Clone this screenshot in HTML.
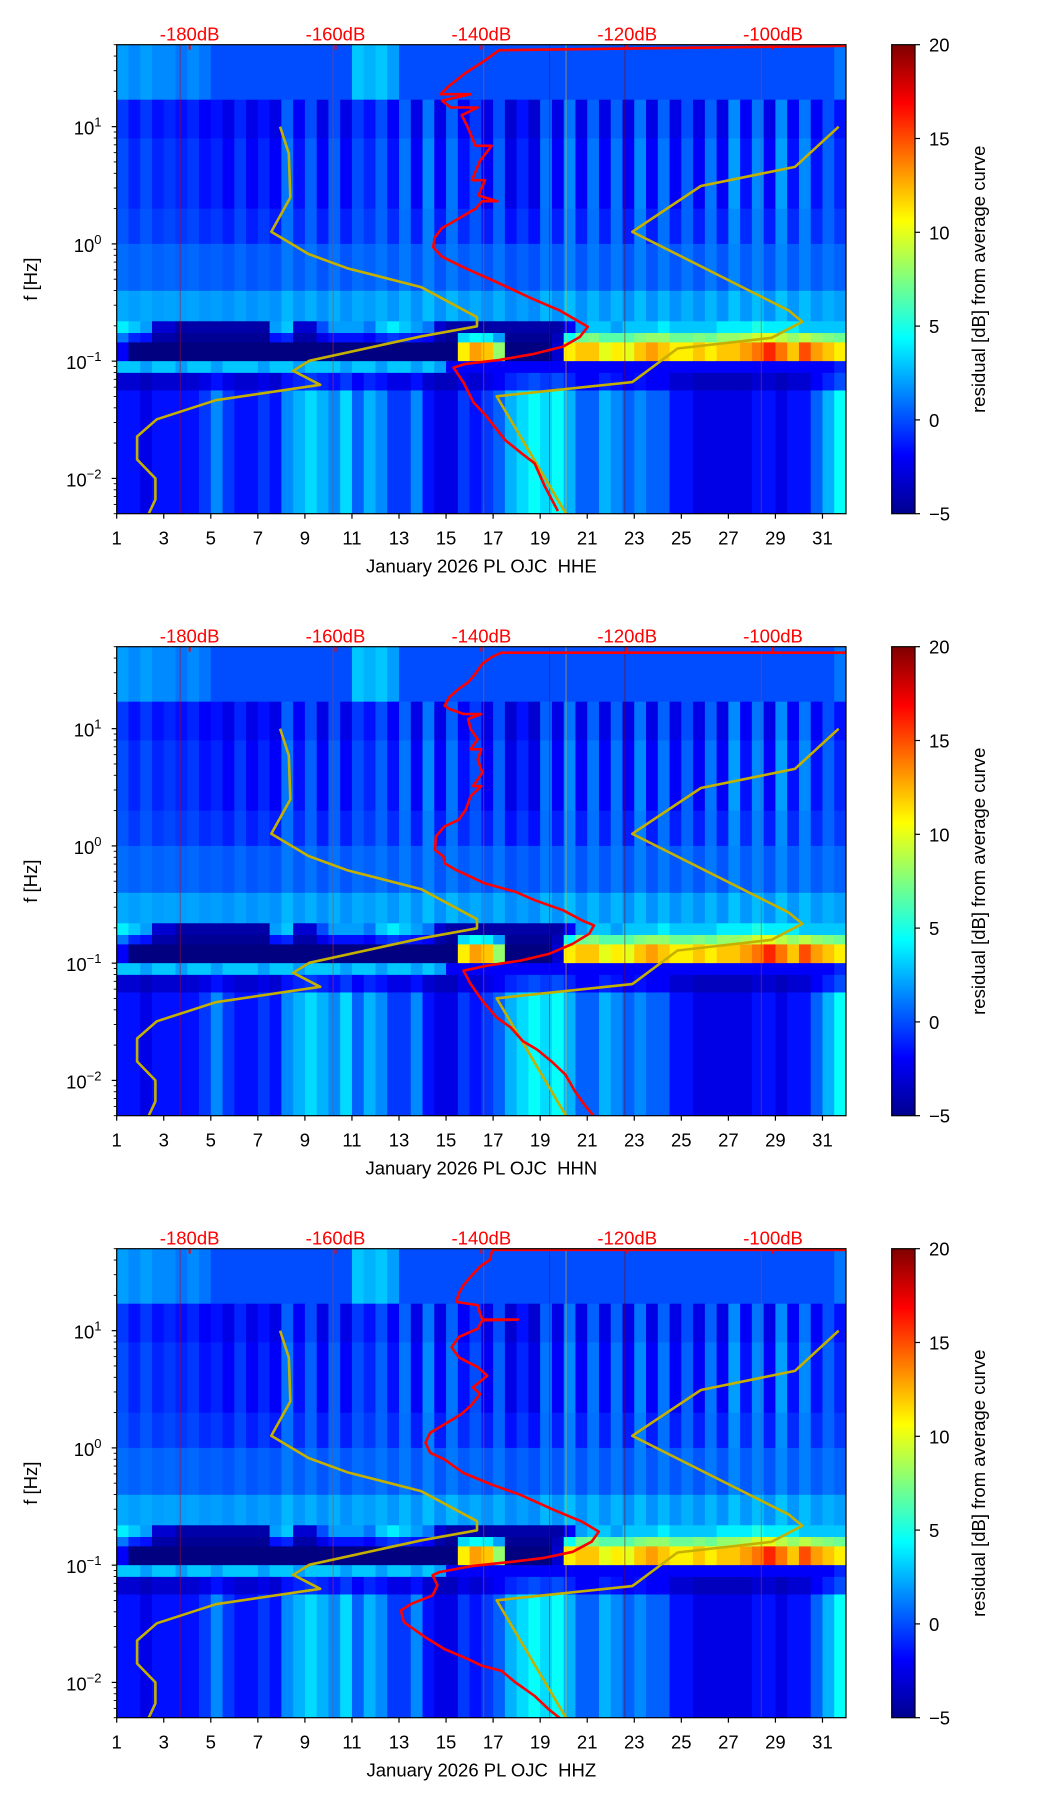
<!DOCTYPE html>
<html><head><meta charset="utf-8"><title>PL OJC residual spectrograms</title>
<style>
html,body{margin:0;padding:0;background:#fff;}
svg{display:block;}
text{font-family:"Liberation Sans","DejaVu Sans",sans-serif;}
</style></head>
<body>
<svg id="fig" xmlns="http://www.w3.org/2000/svg" width="1052" height="1806" viewBox="0 0 1052 1806">
<defs>
<linearGradient id="jetGrad" x1="0" y1="1" x2="0" y2="0">
<stop offset="0" stop-color="#00008f"/><stop offset="0.125" stop-color="#0000ff"/>
<stop offset="0.375" stop-color="#00ffff"/><stop offset="0.5" stop-color="#7fff7f"/>
<stop offset="0.625" stop-color="#ffff00"/><stop offset="0.875" stop-color="#ff0000"/>
<stop offset="1" stop-color="#7f0000"/>
</linearGradient>
</defs>
</svg>
<script>
// ---- data ----
const dayTicks=[1,3,5,7,9,11,13,15,17,19,21,23,25,27,29,31];
const dbTicks=[-180,-160,-140,-120,-100];
const freqDecades=[-2,-1,0,1];
const cbTicks=[-5,0,5,10,15,20];
const channels=["HHE","HHN","HHZ"];
// NLNM (dB, log10 f)
const nlnmDB=[-167.6,-166.4,-166.2,-168.8,-163.7,-158.4,-148.2,-140.6,-140.6,-148.2,-163.6,-165.8,-162.1,-176.4,-184.5,-187.2,-187.2,-184.7,-184.7,-185.6];
const nlnmLogF=[1.0,0.772,0.396,0.103,-0.086,-0.207,-0.370,-0.625,-0.703,-0.788,-0.997,-1.082,-1.202,-1.333,-1.496,-1.643,-1.839,-2.0,-2.18,-2.30];
// NHNM
const nhnmDB=[-91.0,-97.0,-109.9,-119.3,-97.9,-96.0,-100.2,-113.1,-119.3,-137.9,-128.4];
const nhnmLogF=[1.0,0.657,0.494,0.103,-0.566,-0.664,-0.801,-0.892,-1.179,-1.300,-2.30];
// median PSD curves
const red1DB=[-90,-137.6,-139.6,-142.2,-144.5,-145.6,-141.5,-145.4,-144.2,-140.5,-142.7,-141.9,-140.8,-138.6,-140.2,-141.3,-139.5,-140.4,-137.8,-139.9,-140.8,-143.1,-145.4,-146.4,-146.6,-145.4,-142.2,-138.1,-133.0,-129.3,-125.4,-126.5,-128.8,-133.0,-137.6,-142.2,-143.8,-142.4,-141.1,-139.4,-136.7,-134.4,-132.7,-131.3,-129.5];
const red1LogF=[1.690,1.652,1.561,1.457,1.343,1.277,1.277,1.222,1.163,1.163,1.098,1.0,0.837,0.837,0.706,0.543,0.543,0.413,0.364,0.364,0.299,0.217,0.135,0.054,-0.028,-0.109,-0.207,-0.321,-0.468,-0.566,-0.706,-0.794,-0.876,-0.941,-0.990,-1.023,-1.055,-1.186,-1.349,-1.463,-1.675,-1.790,-1.871,-2.067,-2.279];
const red2DB=[-90,-137.25,-138.55,-139.85,-140.83,-141.80,-143.10,-144.40,-145.05,-144.40,-142.45,-140.0,-141.80,-141.47,-140.50,-141.47,-140.0,-140.50,-139.85,-141.15,-140.0,-141.47,-142.13,-143.10,-145.05,-146.23,-146.36,-145.19,-145.05,-143.43,-139.52,-135.29,-132.69,-128.78,-126.18,-124.55,-125.20,-127.48,-130.74,-134.64,-139.20,-142.45,-141.47,-139.85,-137.90,-135.95,-134.32,-132.37,-130.41,-128.46,-127.16,-125.86,-124.55];
const red2LogF=[1.648,1.648,1.611,1.554,1.468,1.396,1.339,1.268,1.196,1.168,1.125,1.125,1.082,0.996,0.910,0.824,0.824,0.738,0.624,0.510,0.510,0.424,0.309,0.223,0.166,0.080,-0.034,-0.091,-0.148,-0.206,-0.320,-0.392,-0.463,-0.549,-0.635,-0.678,-0.749,-0.835,-0.921,-0.978,-1.021,-1.064,-1.178,-1.321,-1.464,-1.550,-1.665,-1.736,-1.836,-1.951,-2.094,-2.208,-2.308];
const red3DB=[-90,-138.5,-138.87,-140.17,-141.47,-142.45,-143.10,-143.43,-140.50,-140.17,-139.85,-134.97,-139.85,-140.50,-143.10,-144.08,-143.10,-140.50,-139.20,-141.15,-140.17,-141.47,-142.78,-145.05,-147.01,-147.66,-147.01,-145.05,-142.45,-138.55,-134.64,-130.09,-126.18,-123.90,-124.88,-127.48,-131.39,-135.95,-141.15,-145.70,-146.68,-146.03,-146.68,-149.61,-151.04,-150.59,-147.66,-145.05,-141.80,-139.85,-137.24,-135.29,-132.69,-130.74,-129.11];
const red3LogF=[1.690,1.690,1.603,1.546,1.460,1.388,1.317,1.245,1.217,1.145,1.094,1.094,1.088,1.017,0.945,0.859,0.773,0.688,0.616,0.516,0.459,0.358,0.287,0.201,0.130,0.044,-0.042,-0.099,-0.214,-0.314,-0.400,-0.528,-0.629,-0.714,-0.800,-0.886,-0.938,-0.972,-1.006,-1.058,-1.086,-1.172,-1.258,-1.330,-1.387,-1.487,-1.616,-1.716,-1.802,-1.859,-1.902,-2.002,-2.116,-2.231,-2.311];
// spectrogram activity per half-day (residual dB)
const topAct=[2,1.5,2,1.5,1.5,1,1.5,1,0,0,0,0,0,0,0,0,0,0,0,0,3,2.5,3,2,0,0,0,0,0,0,0,0,0,0,0,0,0,0,0,0,0,0,0,0,0,0,0,0,0,0,0,0,0,0,0,0,0,0,0,0,0,1];
const hfAct=[1,0,1,0,0.5,0,0.5,-0.5,0,-1,0.5,-1,0,-1,2,-0.5,1.5,-1,1.5,-1,1,0,1.5,-0.5,2,-1,2.5,-1,2,-0.5,1,-1,1.5,-1.5,0,-1.5,2,-1,2.5,-1,2,-1,2,-1,2.5,-1,2,-1,1.5,-1,2,-1,3,-0.5,2.5,-1,3,-0.5,2.5,-0.5,1.5,0];
const bandAct=[4,3,2,-3,-3,-4,-4,-4,-4,-4,-4,-4,-4,2,3,-3,-3,0,2,2,2,1,3,4,3,2,1,-3,-4,-4,-4,-4,-4,-4,-4,-4,-4,-4,-2,2,3,3,2,3,3,3,4,3,3,3,3,4,4,4,5,4,4,4,3,3,3,3];
const msAct=[-2,-5,-5,-5,-5,-5,-5,-5,-5,-5,-5,-5,-5,-5,-5,-5,-5,-5,-5,-5,-5,-5,-5,-5,-5,-5,-5,-5,-5,11,13,12,8,-5,-5,-5,-5,-3,11,12,12,10,11,10,12,13,12,11,11,12,11,12,12,13,14,16,14,12,15,13,12,11];
const subAct=[3,3,2,3,3,2,3,3,2,3,3,3,2,3,3,2,3,3,3,2,3,3,2,3,3,2,3,2,-2,-2,-2,-2,-2,-2,-2,-2,-2,-2,-2,-2,-2,-2,-2,-2,-2,-2,-2,-2,-2,-2,-2,-2,-2,-2,-2,-2,-2,-2,-2,-2,-2,-1];
const lfAct=[0,0,-1,0,0,0,0,1,3,1,0,0,1,0,3,4,5,4,3,5,2,4,3,1,1,3,0,-1,-1,1,0,1,2,4,5,6,5,6,4,2,2,4,3,2,3,2,2,0,0,-1,-1,-1,-1,-1,0,0,-1,0,0,2,4,6];
const spikeDays=[3.7,10.2,16.6,19.4,20.1,22.6,28.4];
const spikeVals=[18,16,15,20,12,20,16];

// ---- layout ----
const NS="http://www.w3.org/2000/svg";
const svg=document.getElementById('fig');
const AX_L=116.7, AX_R=846, AX_H=469;
const panelTops=[44.7,646.7,1248.7];
const redDBs=[red1DB,red2DB,red3DB], redLFs=[red1LogF,red2LogF,red3LogF];
function mk(tag,attrs,parent){const e=document.createElementNS(NS,tag);for(const k in attrs)e.setAttribute(k,attrs[k]);(parent||svg).appendChild(e);return e;}
function xDay(d){return AX_L+(d-1)/31*(AX_R-AX_L);}
function xDB(db){return AX_L+(db+190)/100*(AX_R-AX_L);}
function yF(top,lf){return top+(Math.log10(50)-lf)/4*AX_H;}
function clamp(v){return Math.max(0,Math.min(1,v));}
function jet(v){const t=clamp((v+5)/25);
 const r=clamp(Math.min(4*t-1.5,-4*t+4.5)),g=clamp(Math.min(4*t-0.5,-4*t+3.5)),b=clamp(Math.min(4*t+0.5,-4*t+2.5));
 return `rgb(${Math.round(r*255)},${Math.round(g*255)},${Math.round(b*255)})`;}
const rowEdges=[1.7,1.23,0.9,0.3,0.0,-0.4,-0.66,-0.76,-0.84,-1.0,-1.1,-1.25,-2.31];
function cellVal(r,i){
 switch(r){
  case 0:return 0+topAct[i];
  case 1:return -1.5+hfAct[i];
  case 2:return -1+hfAct[i];
  case 3:return -0.5+hfAct[i]*0.7;
  case 4:return 0.5+hfAct[i]*0.3;
  case 5:return 2+hfAct[i]*0.3;
  case 6:return bandAct[i];
  case 7:return (bandAct[i]+msAct[i])/2;
  case 8:return msAct[i];
  case 9:return subAct[i];
  case 10:return -3+lfAct[i]*0.5;
  default:return -1.5+lfAct[i];
 }}

panelTops.forEach((top,p)=>{
 const g=mk('g',{});
 
 
 const clipId='clip'+p;
 const cp=mk('clipPath',{id:clipId},g);
 mk('rect',{x:AX_L,y:top,width:AX_R-AX_L,height:AX_H},cp);
 const cells=mk('g',{'clip-path':`url(#${clipId})`},g);
 
 
 for(let r=0;r<rowEdges.length-1;r++){
  const y0=yF(top,rowEdges[r]), y1=yF(top,rowEdges[r+1]);
  for(let i=0;i<hfAct.length;i++){
   const x0=xDay(1+i*0.5), x1=xDay(1.5+i*0.5);
   const c=mk('rect',{x:x0,y:y0,width:x1-x0+0.6,height:y1-y0+0.6,fill:jet(cellVal(r,i))},cells);
   
   
  }}
 spikeDays.forEach((d,k)=>{
  const l=mk('line',{x1:xDay(d),x2:xDay(d),y1:top,y2:top+AX_H,stroke:jet(spikeVals[k]),'stroke-width':1,opacity:0.5},cells);
  
  
 });
 // curves
 const curves=mk('g',{'clip-path':`url(#${clipId})`},g);
 function poly(dbs,lfs,color,w,name){
  const pts=dbs.map((v,k)=>xDB(v).toFixed(1)+','+yF(top,lfs[k]).toFixed(1)).join(' ');
  const pl=mk('polyline',{points:pts,fill:'none',stroke:color,'stroke-width':w,'stroke-linejoin':'round'},curves);
  
  
 }
 poly(nlnmDB,nlnmLogF,'#c4b000',2.6,'nlnm-curve');
 poly(nhnmDB,nhnmLogF,'#c4b000',2.6,'nhnm-curve');
 poly(redDBs[p],redLFs[p],'#ff0000',2.6,'median-psd-curve');
 // top red ticks & labels
 dbTicks.forEach(db=>{
  const t=mk('line',{x1:xDB(db),x2:xDB(db),y1:top,y2:top+5,stroke:'#ff0000','stroke-width':2},g);
  
  
  const tx=mk('text',{x:xDB(db),y:top-4,'text-anchor':'middle','font-size':18.5,fill:'#ff0000'},g);
  tx.textContent=db+'dB';
  
  
 });
 // frame
 const fr=mk('rect',{x:AX_L,y:top,width:AX_R-AX_L,height:AX_H,fill:'none',stroke:'#000','stroke-width':1.2},g);
 
 
 // x ticks
 dayTicks.forEach(d=>{
  const t=mk('line',{x1:xDay(d),x2:xDay(d),y1:top+AX_H,y2:top+AX_H+5,stroke:'#000','stroke-width':1.2},g);
  
  
  const tx=mk('text',{x:xDay(d),y:top+AX_H+31,'text-anchor':'middle','font-size':18.5,fill:'#000'},g);
  tx.textContent=d;
  
  
 });
 // y ticks
 for(let dec=-3;dec<=1;dec++){for(let m=1;m<10;m++){
  const lf=dec+Math.log10(m); if(lf<Math.log10(0.005)-1e-6||lf>Math.log10(50)+1e-6)continue;
  const y=yF(top,lf);
  const t=mk('line',{x1:AX_L,x2:AX_L-(m===1?5:3),y1:y,y2:y,stroke:'#000','stroke-width':m===1?1.2:0.9},g);
  
  
 }}
 freqDecades.forEach(dec=>{
  const y=yF(top,dec);
  const tx=mk('text',{x:101.5,y:y+8,'text-anchor':'end','font-size':18.5,fill:'#000'},g);
  
  
  const a=mk('tspan',{},tx);a.textContent='10';
  const b=mk('tspan',{dy:-8,'font-size':13},tx);b.textContent=dec<0?'\u2212'+(-dec):String(dec);
 });
 const yl=mk('text',{x:0,y:0,transform:`translate(37,${top+AX_H/2}) rotate(-90)`,'text-anchor':'middle','font-size':18.5,fill:'#000'},g);
 yl.textContent='f [Hz]';
 
 
 const xl=mk('text',{x:(AX_L+AX_R)/2,y:top+AX_H+59,'text-anchor':'middle','font-size':18.5,fill:'#000'},g);
 xl.textContent='January 2026 PL OJC\u00a0\u00a0'+channels[p];
 
 
 // colorbar
 const cb=mk('g',{},g);
 
 
 mk('rect',{x:891.7,y:top,width:23.3,height:AX_H,fill:'url(#jetGrad)',stroke:'#000','stroke-width':1.2},cb);
 cbTicks.forEach(v=>{
  const y=top+AX_H-(v+5)/25*AX_H;
  const t=mk('line',{x1:915,x2:920,y1:y,y2:y,stroke:'#000','stroke-width':1.2},cb);
  
  
  const tx=mk('text',{x:929,y:y+7,'font-size':18.5,fill:'#000'},cb);
  tx.textContent=v<0?'\u2212'+(-v):String(v);
  
  
 });
 const cl=mk('text',{x:0,y:0,transform:`translate(985,${top+AX_H/2}) rotate(-90)`,'text-anchor':'middle','font-size':18.5,fill:'#000'},cb);
 cl.textContent='residual [dB] from average curve';
 
 
});
</script>
</body></html>
